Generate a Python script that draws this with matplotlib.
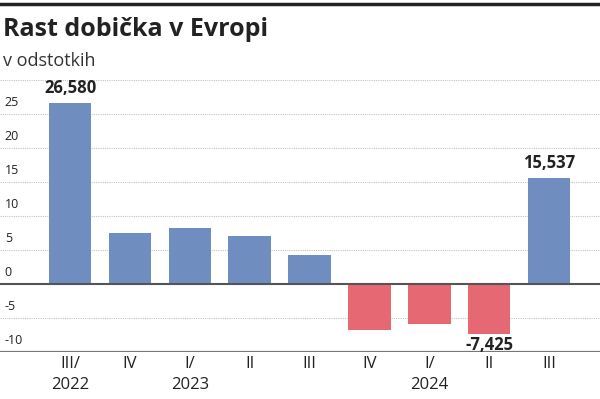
import matplotlib
matplotlib.use("Agg")
import matplotlib.pyplot as plt

# data
kvartali = ["III/\n2022", "IV", "I/\n2023", "II", "III", "IV", "I/\n2024", "II", "III"]
rast = [26.58, 7.5, 8.2, 7.0, 4.3, -6.8, -5.9, -7.425, 15.537]
oznake = {0: "26,580", 7: "-7,425", 8: "15,537"}
y_ticks = [-10, -5, 0, 5, 10, 15, 20, 25, 30]

BLUE = "#6f8dbf"
RED = "#e56873"

plt.rcParams["font.family"] = ["Open Sans", "DejaVu Sans"]

fig = plt.figure(figsize=(6, 3.99), dpi=100)
ax = fig.add_axes([0, 0.1178, 1, 0.6817])

x = list(range(len(rast)))
colors = [BLUE if v >= 0 else RED for v in rast]
ax.bar(x, rast, width=0.71, color=colors, zorder=2)

ax.set_xlim(-1.17, 8.85)
ax.set_ylim(-10, 30)

# gridlines
for t in y_ticks:
    if t == 0:
        ax.axhline(0, color="#555555", lw=1.5, zorder=3)
    elif t == -10:
        ax.axhline(t, color="#777777", lw=1.6, zorder=3)
    else:
        ax.axhline(t, color="#c4c4c4", lw=0.8, ls=(0, (1, 1)), zorder=1)
    if t != 30:
        ax.text(0.008, t + 0.7, str(t), transform=ax.get_yaxis_transform(),
                fontsize=9, color="#222222", ha="left", va="bottom")

for i, lab in oznake.items():
    v = rast[i]
    if v >= 0:
        ax.text(i, v + 0.9, lab, ha="center", va="bottom", fontsize=12,
                fontweight="bold", color="#222222")
    else:
        ax.text(i, v - 0.2, lab, ha="center", va="top", fontsize=12,
                fontweight="bold", color="#222222")

ax.set_xticks(x)
ax.set_xticklabels(kvartali, fontsize=12, color="#222222", linespacing=1.4)
ax.tick_params(axis="x", length=0, pad=3)
ax.set_yticks([])
for s in ax.spines.values():
    s.set_visible(False)

# header
fig.add_artist(plt.Line2D([0, 1], [0.99, 0.99], color="#222222", lw=2.5))
fig.text(0.005, 0.925, "Rast dobička v Evropi", fontsize=18, fontweight="bold",
         color="#222222", ha="left", va="center")
fig.text(0.005, 0.848, "v odstotkih", fontsize=13, color="#333333",
         ha="left", va="center")

fig.savefig("out.png", dpi=100)
